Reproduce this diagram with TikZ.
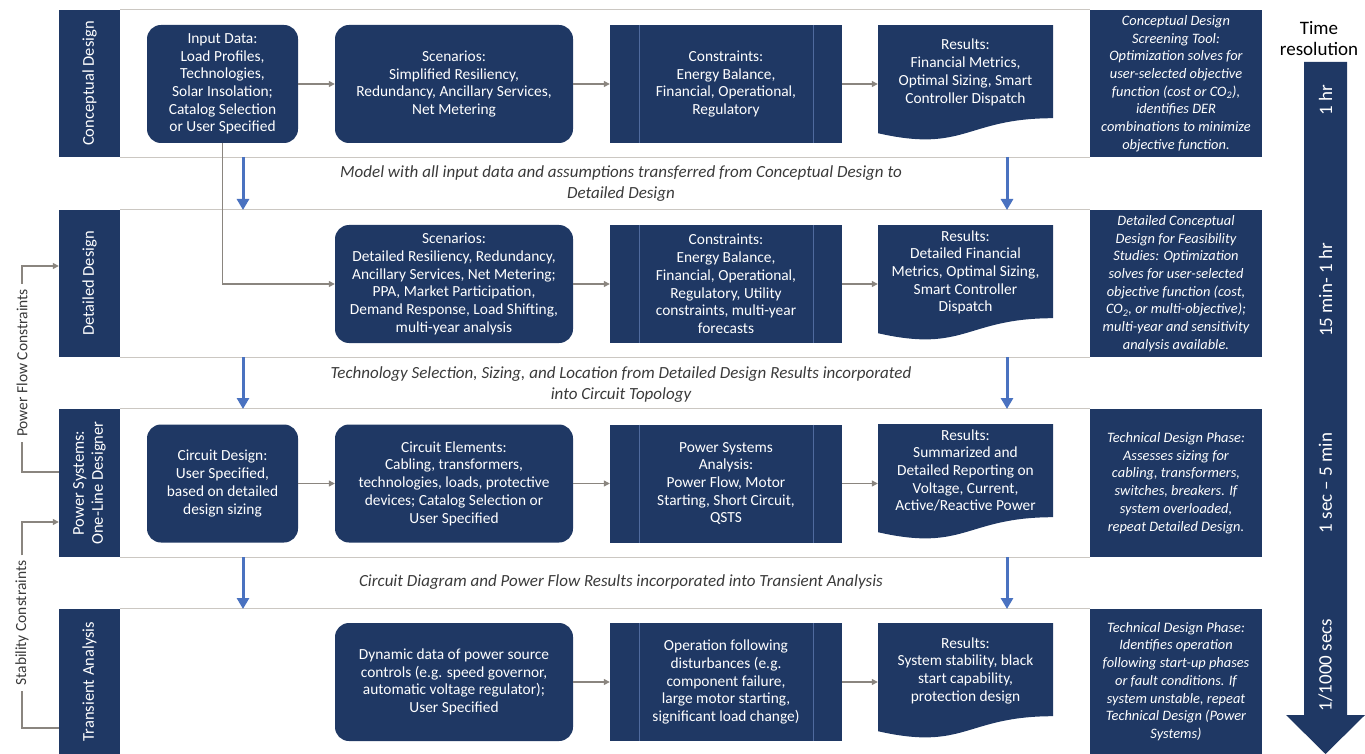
\documentclass[tikz,border=0pt]{standalone}
\usepackage{fontspec}
\setmainfont{Carlito}
\usetikzlibrary{arrows.meta}
\definecolor{navy}{HTML}{1F3864}
\definecolor{navyline}{HTML}{4F6A9E}
\definecolor{flowgray}{HTML}{8A857F}
\definecolor{framegray}{HTML}{CBC7C2}
\definecolor{linkblue}{HTML}{4A72C0}
\definecolor{notegray}{HTML}{3A3A3A}
\begin{document}
\begin{tikzpicture}[x=1pt,y=-1pt,
    every node/.style={align=center, inner sep=0pt, font=\fontsize{15.4}{17.7}\selectfont},
    lanebox/.style={fill=navy, text=white, rotate=90, minimum height=61pt, font=\fontsize{16.5}{19}\selectfont},
    roundbox/.style={fill=navy, text=white, rounded corners=14pt, minimum height=118pt},
    procbox/.style={fill=navy, text=white, minimum width=232pt, minimum height=118pt,
      path picture={\draw[navyline, line width=0.8pt]
        ([xshift=29pt]path picture bounding box.north west) -- ([xshift=29pt]path picture bounding box.south west)
        ([xshift=-29pt]path picture bounding box.north east) -- ([xshift=-29pt]path picture bounding box.south east);}},
    docbox/.style={text=white, minimum width=175pt, minimum height=116pt, text depth=24pt, anchor=north,
      path picture={\fill[navy] (path picture bounding box.north west) -- (path picture bounding box.north east)
        -- ([yshift=-93pt]path picture bounding box.north east)
        .. controls ([yshift=-93pt]path picture bounding box.north) and ([yshift=-128pt]path picture bounding box.north)
        .. ([yshift=-108pt]path picture bounding box.north west) -- cycle;}},
    descbox/.style={fill=navy, text=white, minimum width=172pt, font=\fontsize{14.4}{17.7}\selectfont\itshape},
    note/.style={text=notegray, font=\fontsize{17}{21}\selectfont\itshape},
    sidenote/.style={text=notegray, rotate=90, inner sep=5pt, font=\fontsize{15.5}{18}\selectfont},
    timelabel/.style={text=white, rotate=90, font=\fontsize{19}{21}\selectfont},
    frameline/.style={framegray, line width=1.2pt},
    flow/.style={flowgray, line width=1.2pt},
    flowarrow/.style={flow, -{Triangle[length=6pt,width=6pt]}},
    linkarrow/.style={linkblue, line width=3pt, -{Triangle[length=11pt,width=12pt]}}]
  \useasboundingbox (0,0) rectangle (1365,754);

  % lanes
  \node[lanebox, minimum width=147pt] (lab1) at (89.5,83.5) {Conceptual Design};
  \node[lanebox, minimum width=147pt] (lab2) at (89.5,283.5) {Detailed Design};
  \node[lanebox, minimum width=148pt] (lab3) at (89.5,483) {Power Systems:\\One-Line Designer};
  \node[lanebox, minimum width=145pt] (lab4) at (89.5,681.5) {Transient Analysis};

  \node[descbox, minimum height=147pt] (desc1) at (1176,83.5) {Conceptual Design\\Screening Tool:\\Optimization solves for\\user-selected objective\\function (cost or CO\textsubscript{2}),\\identifies DER\\combinations to minimize\\objective function.};
  \node[descbox, minimum height=147pt] (desc2) at (1176,283.5) {Detailed Conceptual\\Design for Feasibility\\Studies: Optimization\\solves for user-selected\\objective function (cost,\\CO\textsubscript{2}, or multi-objective);\\multi-year and sensitivity\\analysis available.};
  \node[descbox, minimum height=148pt] (desc3) at (1176,483) {Technical Design Phase:\\Assesses sizing for\\cabling, transformers,\\switches, breakers. If\\system overloaded,\\repeat Detailed Design.};
  \node[descbox, minimum height=145pt] (desc4) at (1176,681.5) {Technical Design Phase:\\Identifies operation\\following start-up phases\\or fault conditions. If\\system unstable, repeat\\Technical Design (Power\\Systems)};

  \draw[frameline] (lab1.south east) -- (desc1.north west);
  \draw[frameline] (lab1.south west) -- (desc1.south west);
  \draw[frameline] (lab2.south east) -- (desc2.north west);
  \draw[frameline] (lab2.south west) -- (desc2.south west);
  \draw[frameline] (lab3.south east) -- (desc3.north west);
  \draw[frameline] (lab3.south west) -- (desc3.south west);
  \draw[frameline] (lab4.south east) -- (desc4.north west);

  % row 1
  \node[roundbox, minimum width=151pt] (input) at (222.5,84) {Input Data:\\Load Profiles,\\Technologies,\\Solar Insolation;\\Catalog Selection\\or User Specified};
  \node[roundbox, minimum width=238pt] (scen1) at (454,84) {Scenarios:\\Simplified Resiliency,\\Redundancy, Ancillary Services,\\Net Metering};
  \node[procbox] (cons1) at (726,84) {Constraints:\\Energy Balance,\\Financial, Operational,\\Regulatory};
  \node[docbox] (res1) at (965.5,25) {Results:\\Financial Metrics,\\Optimal Sizing, Smart\\Controller Dispatch};
  \draw[flowarrow] (input) -- (scen1);
  \draw[flowarrow] (scen1) -- (cons1);
  \draw[flowarrow] (cons1.east) -- (cons1.east -| res1.west);

  % row 2
  \node[roundbox, minimum width=238pt] (scen2) at (454,284) {Scenarios:\\Detailed Resiliency, Redundancy,\\Ancillary Services, Net Metering;\\PPA, Market Participation,\\Demand Response, Load Shifting,\\multi-year analysis};
  \node[procbox] (cons2) at (726,284) {Constraints:\\Energy Balance,\\Financial, Operational,\\Regulatory, Utility\\constraints, multi-year\\forecasts};
  \node[docbox] (res2) at (965.5,225) {Results:\\Detailed Financial\\Metrics, Optimal Sizing,\\Smart Controller\\Dispatch};
  \draw[flowarrow] (input.south) |- (scen2.west);
  \draw[flowarrow] (scen2) -- (cons2);
  \draw[flowarrow] (cons2.east) -- (cons2.east -| res2.west);

  % row 3
  \node[roundbox, minimum width=151pt] (circ) at (222.5,483.5) {Circuit Design:\\User Specified,\\based on detailed\\design sizing};
  \node[roundbox, minimum width=238pt] (elem) at (454,483.5) {Circuit Elements:\\Cabling, transformers,\\technologies, loads, protective\\devices; Catalog Selection or\\User Specified};
  \node[procbox] (psa) at (726,483.5) {Power Systems\\Analysis:\\Power Flow, Motor\\Starting, Short Circuit,\\QSTS};
  \node[docbox] (res3) at (965.5,424) {Results:\\Summarized and\\Detailed Reporting on\\Voltage, Current,\\Active/Reactive Power};
  \draw[flowarrow] (circ) -- (elem);
  \draw[flowarrow] (elem) -- (psa);
  \draw[flowarrow] (psa.east) -- (psa.east -| res3.west);

  % row 4
  \node[roundbox, minimum width=238pt] (dyn) at (454,682) {Dynamic data of power source\\controls (e.g. speed governor,\\automatic voltage regulator);\\User Specified};
  \node[procbox] (op) at (726,682) {Operation following\\disturbances (e.g.\\component failure,\\large motor starting,\\significant load change)};
  \node[docbox] (res4) at (965.5,623) {Results:\\System stability, black\\start capability,\\protection design};
  \draw[flowarrow] (dyn) -- (op);
  \draw[flowarrow] (op.east) -- (op.east -| res4.west);

  % hand-over between lanes
  \node[note] (t1) at (621,183.5) {Model with all input data and assumptions transferred from Conceptual Design to\\Detailed Design};
  \node[note] (t2) at (621,384.5) {Technology Selection, Sizing, and Location from Detailed Design Results incorporated\\into Circuit Topology};
  \node[note] (t3) at (621,582) {Circuit Diagram and Power Flow Results incorporated into Transient Analysis};
  \coordinate (upl1) at (243,157); \coordinate (dnl1) at (243,210);
  \coordinate (upr1) at (1007,157); \coordinate (dnr1) at (1007,210);
  \coordinate (upl2) at (243,357); \coordinate (dnl2) at (243,409);
  \coordinate (upr2) at (1007,357); \coordinate (dnr2) at (1007,409);
  \coordinate (upl3) at (243,557); \coordinate (dnl3) at (243,609);
  \coordinate (upr3) at (1007,557); \coordinate (dnr3) at (1007,609);
  \foreach \i in {1,2,3} {
    \draw[linkarrow] (upl\i) -- (dnl\i);
    \draw[linkarrow] (upr\i) -- (dnr\i);
  }

  % feedback on the left
  \node[sidenote] (pfc) at (22,363) {Power Flow Constraints};
  \node[sidenote] (stc) at (22,623) {Stability Constraints};
  \draw[flow] ([yshift=11pt]lab3.north) -| (pfc.west);
  \draw[flowarrow] (pfc.east) |- ([yshift=17.5pt]lab2.north);
  \draw[flow] ([yshift=-46.5pt]lab4.north) -| (stc.west);
  \draw[flowarrow] (stc.east) |- ([yshift=-39pt]lab3.north);

  % time axis
  \node[font=\fontsize{19}{21}\selectfont] (timehead) at (1319,39) {Time\\resolution};
  \fill[navy] (1304,62) -- (1347,62) -- (1347,715) -- (1365,715) -- (1325.5,754) -- (1286,715) -- (1304,715) -- cycle;
  \node[timelabel] (tr1) at (1325.5,100) {1 hr};
  \node[timelabel] (tr2) at (1325.5,290) {15 min- 1 hr};
  \node[timelabel] (tr3) at (1325.5,483) {1 sec -- 5 min};
  \node[timelabel] (tr4) at (1325.5,665) {1/1000 secs};
\end{tikzpicture}
\end{document}
